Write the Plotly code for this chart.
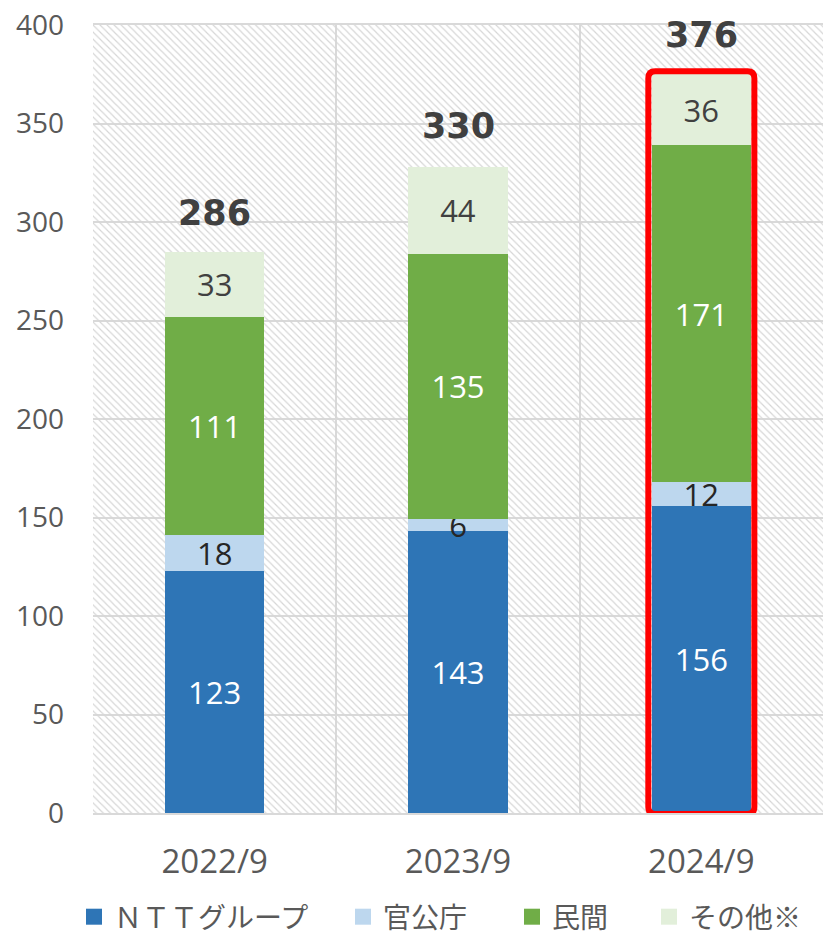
import plotly.graph_objects as go

# ---- data ----
categories = ["2022/9", "2023/9", "2024/9"]
series_names = ["ＮＴＴグループ", "官公庁", "民間", "その他※"]
ntt = [123, 143, 156]
kankocho = [18, 6, 12]
minkan = [111, 135, 171]
sonota = [33, 44, 36]
totals = [286, 330, 376]
highlight_index = 2
y_max = 400
y_dtick = 50

series_values = [ntt, kankocho, minkan, sonota]
series_colors = ["#2E75B6", "#BDD7EE", "#70AD47", "#E2EFDA"]
label_colors = ["#FFFFFF", "#262626", "#FFFFFF", "#404040"]

GRID = "#D9D9D9"
TICK = "#595959"
NUM_FONT = "Open Sans"
JP_FONT = "Noto Sans CJK JP"
BARGAP = 0.593
W, H = 823, 937
legend_left_px = [74, 343, 512, 649]

fig = go.Figure()

# hatched plot background (full plot area), on a hidden numeric x axis
fig.add_trace(go.Bar(
    x=[0.5], y=[y_max], width=[1], base=0,
    xaxis="x", yaxis="y",
    marker=dict(color="rgba(0,0,0,0)", line=dict(width=0),
                pattern=dict(shape="\\", size=5, solidity=0.24,
                             fgcolor="#D6D6D6", fgopacity=1, fillmode="overlay")),
    hoverinfo="skip", showlegend=False,
))

legend_names = ["legend", "legend2", "legend3", "legend4"]

# stacked bars on category axis (overlay)
for name, vals, col, lc, lg in zip(series_names, series_values, series_colors,
                                   label_colors, legend_names):
    fig.add_trace(go.Bar(
        x=categories, y=vals, name=name, xaxis="x2", yaxis="y",
        marker=dict(color=col, line=dict(width=0)),
        text=[str(v) for v in vals], textposition="inside", textangle=0,
        insidetextanchor="middle", constraintext="none",
        textfont=dict(family=NUM_FONT, size=31, color=lc),
        showlegend=False,
    ))
    # legend proxy (square marker)
    fig.add_trace(go.Scatter(
        x=[None], y=[None], mode="markers", name=name, xaxis="x2", yaxis="y",
        marker=dict(symbol="square", size=16, color=col),
        showlegend=True, legend=lg,
    ))

# stack tops
stack_tops = [sum(s[i] for s in series_values) for i in range(len(categories))]

# totals annotations
for cat, tot in zip(categories, totals):
    fig.add_annotation(
        x=cat, y=tot, xref="x2", yref="y", text=f"<b>{tot}</b>",
        showarrow=False, yanchor="bottom", yshift=15,
        font=dict(family="DejaVu Sans", size=35, color="#404040"),
    )

# red highlight rectangle around the highlighted stack (rounded corners)
n = len(categories)
cw = 1.0 / n
cx = (highlight_index + 0.5) * cw
half = (1 - BARGAP) / 2 * cw + 0.0048
x0, x1 = cx - half, cx + half
y0, y1 = -0.5, stack_tops[highlight_index] + 1.5
rx, ry = 0.0095, 3.5
path = (f"M {x0+rx},{y0} L {x1-rx},{y0} Q {x1},{y0} {x1},{y0+ry} "
        f"L {x1},{y1-ry} Q {x1},{y1} {x1-rx},{y1} L {x0+rx},{y1} "
        f"Q {x0},{y1} {x0},{y1-ry} L {x0},{y0+ry} Q {x0},{y0} {x0+rx},{y0} Z")
fig.add_shape(type="path", path=path, xref="x", yref="y",
              line=dict(color="#FF0000", width=6), layer="above")

legend_common = dict(orientation="h", xref="container", yref="container",
                     xanchor="left", y=20 / H, yanchor="middle",
                     font=dict(family=JP_FONT, size=28, color=TICK),
                     itemsizing="trace", bgcolor="rgba(0,0,0,0)")
legends = {lg: dict(legend_common, x=px / W) for lg, px in zip(legend_names, legend_left_px)}

fig.update_layout(
    width=W, height=H,
    margin=dict(l=93, r=0, t=25, b=124, autoexpand=False),
    paper_bgcolor="white", plot_bgcolor="white",
    barmode="stack", bargap=BARGAP,
    hovermode=False,
    xaxis=dict(range=[0, 1], tick0=0, dtick=cw, showticklabels=False,
               showgrid=True, gridcolor=GRID, gridwidth=1.5, zeroline=False,
               showline=True, linecolor=GRID, linewidth=2, mirror=True, ticks="",
               automargin=False),
    xaxis2=dict(type="category", overlaying="x", side="bottom", range=[-0.5, n - 0.5],
                showgrid=False, zeroline=False, showline=False, ticks="",
                ticklabelstandoff=26, automargin=False,
                tickfont=dict(family=NUM_FONT, size=33, color=TICK)),
    yaxis=dict(range=[0, y_max], dtick=y_dtick, showgrid=True, gridcolor=GRID,
               gridwidth=1.5, zeroline=False, showline=False, ticks="",
               ticklabelstandoff=28, automargin=False,
               tickfont=dict(family=NUM_FONT, size=28, color=TICK)),
    font=dict(family=NUM_FONT),
    **legends,
)

fig.write_html("out.html", config={"displayModeBar": False},
               post_script="document.body.style.margin='0';")
